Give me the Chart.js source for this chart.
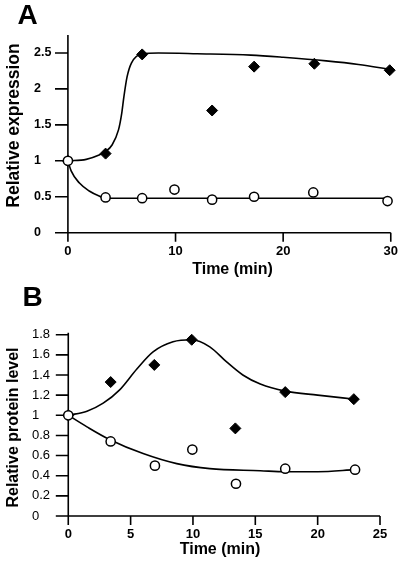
<!DOCTYPE html>
<html>
<head>
<meta charset="utf-8">
<script src="https://cdn.jsdelivr.net/npm/chart.js@4/dist/chart.umd.min.js"></script>
<style>
  body { margin:0; background:#fff; }
  .panel { position:absolute; left:0; width:409px; height:283px; }
</style>
</head>
<body>
<div class="panel" style="top:0"><canvas id="chartA"></canvas></div>
<div class="panel" style="top:283px"><canvas id="chartB"></canvas></div>
<script>
// panel A - relative expression
var timeA_filled = [0, 3.5, 6.9, 13.4, 17.3, 22.9, 29.9];
var valA_filled  = [1, 1.10, 2.48, 1.70, 2.31, 2.35, 2.26];
var timeA_open   = [0, 3.5, 6.9, 9.9, 13.4, 17.3, 22.8, 29.7];
var valA_open    = [1, 0.49, 0.48, 0.60, 0.46, 0.50, 0.56, 0.44];
// fitted curves
var fitTimeA_filled = [0, 1.7, 2.9, 3.5, 4.1, 4.7, 5.0, 5.2, 5.5, 5.9, 6.9, 8.4, 12, 17, 20, 24, 27, 30];
var fitValA_filled  = [1, 1.02, 1.08, 1.13, 1.22, 1.43, 1.66, 1.89, 2.17, 2.36, 2.49, 2.5, 2.49, 2.47, 2.44, 2.39, 2.34, 2.27];
var fitTimeA_open = [0, 0.3, 1.07, 1.98, 2.9, 3.5, 7, 15, 23, 30];
var fitValA_open  = [1, 0.86, 0.69, 0.58, 0.51, 0.48, 0.48, 0.48, 0.48, 0.48];
var xTicksA = [0, 10, 20, 30];
var yTicksA = [0, 0.5, 1, 1.5, 2, 2.5];

// panel B - relative protein level
var timeB_filled = [0, 3.4, 6.9, 9.9, 13.4, 17.4, 22.9];
var valB_filled  = [1, 1.33, 1.50, 1.75, 0.87, 1.23, 1.16];
var timeB_open   = [0, 3.4, 6.95, 9.95, 13.45, 17.4, 23];
var valB_open    = [1, 0.74, 0.50, 0.66, 0.32, 0.47, 0.46];
var fitTimeB_filled = [0, 1.5, 2.8, 4.1, 5.5, 6.8, 8.4, 9.9, 11.35, 12.7, 14, 15.4, 17.4, 20, 23];
var fitValB_filled  = [1, 1.04, 1.12, 1.25, 1.46, 1.63, 1.73, 1.75, 1.68, 1.53, 1.40, 1.31, 1.24, 1.20, 1.16];
var fitTimeB_open = [0, 1.5, 3.3, 6, 8.7, 11.35, 15.4, 17.4, 20, 23];
var fitValB_open  = [1, 0.885, 0.76, 0.62, 0.52, 0.47, 0.45, 0.44, 0.44, 0.46];
var xTicksB = [0, 5, 10, 15, 20, 25];
var yTicksB = [0, 0.2, 0.4, 0.6, 0.8, 1, 1.2, 1.4, 1.6, 1.8];

var FONT = "'Liberation Sans', Arial, Helvetica, sans-serif";

function pts(xs, ys) {
  var out = [];
  for (var i = 0; i < xs.length; i++) out.push({x: xs[i], y: ys[i]});
  return out;
}

// draws the axis lines, tick marks, titles and the panel letter
var axesPlugin = {
  id: 'axes',
  beforeDatasetsDraw: function(chart) {
    var o = chart.options.plugins.axes;
    var ctx = chart.ctx, xs = chart.scales.x, ys = chart.scales.y, a = chart.chartArea;
    var x0 = xs.getPixelForValue(0), y0 = ys.getPixelForValue(0);
    ctx.save();
    ctx.strokeStyle = '#000';
    ctx.lineWidth = 1.6;
    ctx.beginPath();
    ctx.moveTo(a.left, y0); ctx.lineTo(a.right, y0);
    ctx.moveTo(x0, a.top); ctx.lineTo(x0, y0 + o.tick);
    ys.ticks.forEach(function(t) {
      var y = ys.getPixelForValue(t.value);
      ctx.moveTo(a.left, y); ctx.lineTo(x0, y);
    });
    xs.ticks.forEach(function(t) {
      var x = xs.getPixelForValue(t.value);
      ctx.moveTo(x, y0); ctx.lineTo(x, y0 + o.tick);
    });
    ctx.stroke();

    ctx.fillStyle = '#000';
    ctx.textAlign = 'center';
    ctx.textBaseline = 'middle';
    ctx.font = 'bold ' + o.xTitleSize + 'px ' + FONT;
    ctx.fillText(o.xTitle, o.xTitlePos[0], o.xTitlePos[1]);
    ctx.save();
    ctx.translate(o.yTitlePos[0], o.yTitlePos[1]);
    ctx.rotate(-Math.PI / 2);
    ctx.font = 'bold ' + o.yTitleSize + 'px ' + FONT;
    ctx.fillText(o.yTitle, 0, 0);
    ctx.restore();
    ctx.font = 'bold 28px ' + FONT;
    ctx.fillText(o.letter, o.letterPos[0], o.letterPos[1]);
    ctx.restore();
  }
};

function plain(v) { return String(v); }

function makeChart(id, d) {
  var ctx = document.getElementById(id).getContext('2d');
  return new Chart(ctx, {
    type: 'scatter',
    data: {
      datasets: [
        {data: pts(d.fitT1, d.fitV1), showLine: true, pointRadius: 0, borderColor: '#000',
         borderWidth: 1.6, cubicInterpolationMode: 'monotone', order: 3},
        {data: pts(d.fitT2, d.fitV2), showLine: true, pointRadius: 0, borderColor: '#000',
         borderWidth: 1.6, cubicInterpolationMode: 'monotone', order: 3},
        {data: pts(d.t1, d.v1), pointStyle: 'rectRot', pointRadius: 5.5, backgroundColor: '#000',
         borderColor: '#000', borderWidth: 1, order: 2},
        {data: pts(d.t2, d.v2), pointStyle: 'circle', pointRadius: 4.6, backgroundColor: '#fff',
         borderColor: '#000', borderWidth: 1.5, order: 1}
      ]
    },
    options: {
      responsive: true,
      maintainAspectRatio: false,
      animation: false,
      events: [],
      clip: false,
      layout: {padding: d.pad},
      plugins: {
        legend: {display: false},
        tooltip: {enabled: false},
        axes: d.axes
      },
      scales: {
        x: {
          type: 'linear', min: d.xMin, max: d.xMax,
          grid: {display: false, drawTicks: false}, border: {display: false},
          ticks: {color: '#000', padding: d.xPad, maxRotation: 0, callback: plain,
                  font: {family: FONT, size: 13, weight: 'bold'}},
          afterBuildTicks: function(s) { s.ticks = d.xTicks.map(function(v) { return {value: v}; }); },
          afterFit: function(s) { s.height = d.xHeight; }
        },
        y: {
          type: 'linear', min: 0, max: d.yMax,
          grid: {display: false, drawTicks: false}, border: {display: false},
          ticks: {color: '#000', crossAlign: 'far', callback: plain, font: d.yFont},
          afterBuildTicks: function(s) { s.ticks = d.yTicks.map(function(v) { return {value: v}; }); },
          afterFit: function(s) { s.width = d.yWidth; }
        }
      }
    },
    plugins: [axesPlugin]
  });
}

makeChart('chartA', {
  t1: timeA_filled, v1: valA_filled, t2: timeA_open, v2: valA_open,
  fitT1: fitTimeA_filled, fitV1: fitValA_filled, fitT2: fitTimeA_open, fitV2: fitValA_open,
  xTicks: xTicksA, yTicks: yTicksA, xMin: -1.2, xMax: 30, yMax: 2.75,
  pad: {left: 34, right: 12.3, top: 35, bottom: 0}, yWidth: 21, xHeight: 50.3, xPad: 11,
  yFont: {family: FONT, size: 12.5, weight: 'bold'},
  axes: {tick: 9, xTitle: 'Time (min)', xTitleSize: 16, xTitlePos: [232.5, 270],
         yTitle: 'Relative expression', yTitleSize: 17.5, yTitlePos: [14.5, 125.5],
         letter: 'A', letterPos: [27.5, 16]}
});

makeChart('chartB', {
  t1: timeB_filled, v1: valB_filled, t2: timeB_open, v2: valB_open,
  fitT1: fitTimeB_filled, fitV1: fitValB_filled, fitT2: fitTimeB_open, fitV2: fitValB_open,
  xTicks: xTicksB, yTicks: yTicksB, xMin: -1, xMax: 25, yMax: 1.82,
  pad: {left: 32, right: 29, top: 49.7, bottom: 0}, yWidth: 23.8, xHeight: 50, xPad: 11,
  yFont: {family: FONT, size: 13, weight: 'normal'},
  axes: {tick: 9, xTitle: 'Time (min)', xTitleSize: 16, xTitlePos: [220, 267],
         yTitle: 'Relative protein level', yTitleSize: 16, yTitlePos: [14, 144.5],
         letter: 'B', letterPos: [32.5, 15]}
});
</script>
</body>
</html>
